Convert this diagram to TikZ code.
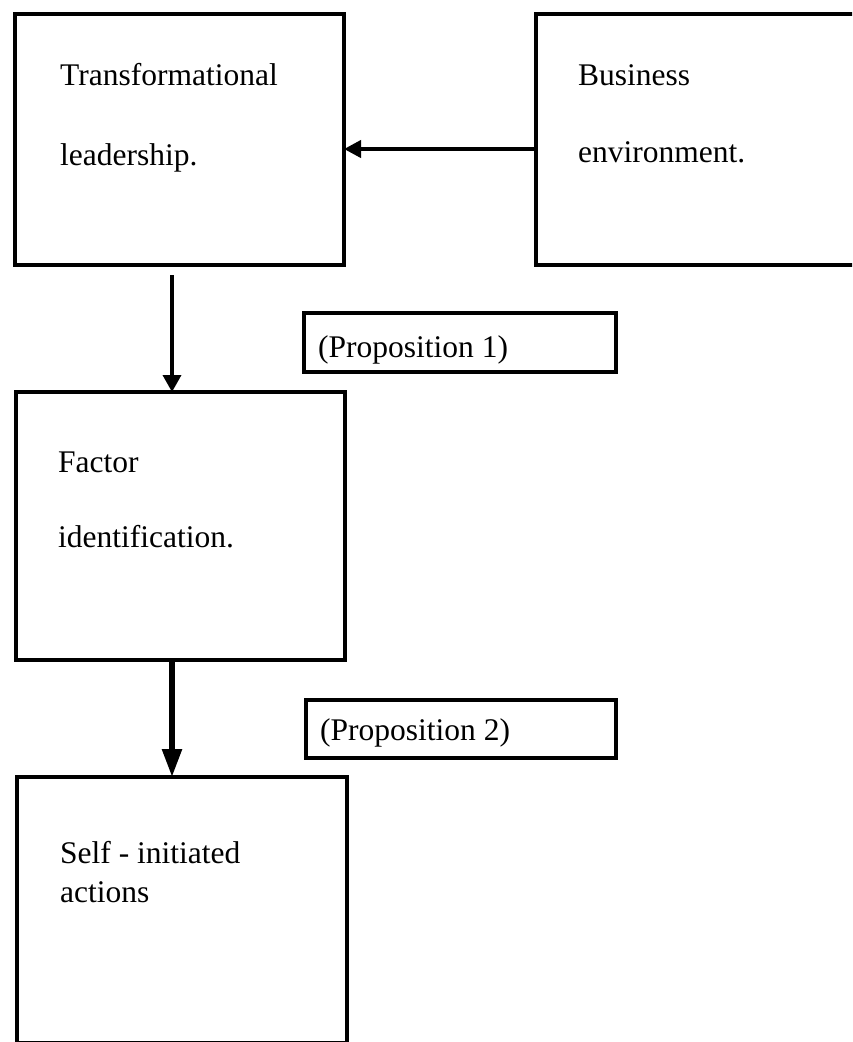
\documentclass[tikz,border=0pt]{standalone}
\usepackage{fontspec}
\setmainfont{Liberation Serif}
\usetikzlibrary{arrows.meta}
\begin{document}
\begin{tikzpicture}[x=1pt,y=-1pt,
  box/.style={draw=black, line width=4.5pt, rectangle, inner sep=0pt, outer sep=0pt, anchor=north west},
  lbl/.style={anchor=base west, inner sep=0pt, font=\fontsize{31.5}{37}\selectfont},
  arrh/.style={draw=black, line width=4pt, -{Triangle[length=17pt,width=17pt]}},
  arrv/.style={draw=black, line width=3.5pt, -{Triangle[length=17pt,width=18pt]}},
  arrw/.style={draw=black, line width=5.5pt, -{Triangle[length=28pt,width=19pt]}}]
\useasboundingbox (0,0) rectangle (852,1042);
\clip (0,0) rectangle (852,1042);
% boxes
\node[box, minimum width=329pt, minimum height=251pt] (tl) at (15,14) {};
\node[box, minimum width=400pt, minimum height=251pt] (biz) at (536,14) {};
\node[box, minimum width=329pt, minimum height=268pt] (fac) at (16,392) {};
\node[box, minimum width=330pt, minimum height=266pt] (self) at (17,777) {};
\node[box, minimum width=312pt, minimum height=59pt] (p1) at (304,313) {};
\node[box, minimum width=310pt, minimum height=58pt] (p2) at (306,700) {};
% texts
\node[lbl] (t1a) at (60,85) {Transformational};
\node[lbl] (t1b) at (60,165) {leadership.};
\node[lbl] (b1a) at (578,85) {Business};
\node[lbl] (b1b) at (578,162) {environment.};
\node[lbl] (f1a) at (58,472) {Factor};
\node[lbl] (f1b) at (58,547) {identification.};
\node[lbl] (s1a) at (60,863) {Self - initiated};
\node[lbl] (s1b) at (60,902) {actions};
\node[lbl] (p1t) at (318,357) {(Proposition 1)};
\node[lbl] (p2t) at (320,740) {(Proposition 2)};
% connectors
\draw[arrh] ([yshift=-9.5pt]biz.west) -- ([yshift=-9.5pt]tl.east);
\draw[arrv] ([xshift=-7.5pt,yshift=-10pt]tl.south) -- ([xshift=-8.5pt]fac.north);
\draw[arrw] ([xshift=-8.5pt]fac.south) -- ([xshift=-10pt]self.north);
\end{tikzpicture}
\end{document}
